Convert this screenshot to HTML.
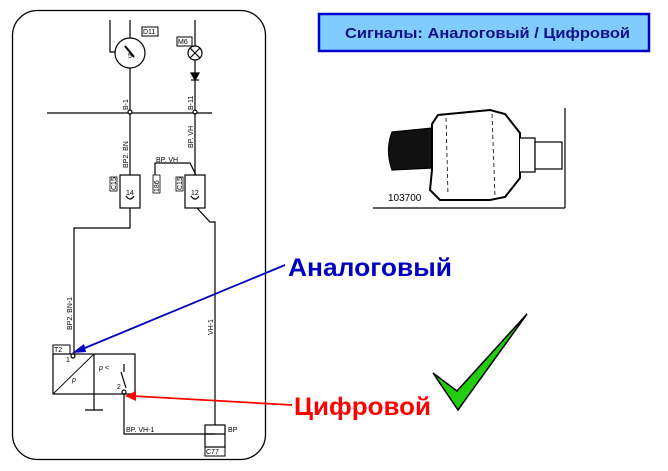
<!DOCTYPE html>
<html><head><meta charset="utf-8"><style>
html,body{margin:0;padding:0;background:#fff;width:668px;height:471px;overflow:hidden}
svg{display:block}
</style></head><body>
<svg width="668" height="471" viewBox="0 0 668 471" xmlns="http://www.w3.org/2000/svg" font-family="Liberation Sans, sans-serif">
<rect x="12.5" y="10.5" width="253" height="449" rx="25" fill="none" stroke="#000" stroke-width="1.3"/>
<g stroke="#000" stroke-width="1.2" fill="none">
<path d="M110 20 V52 H115"/>
<line x1="130" y1="20" x2="130" y2="38"/>
<circle cx="130" cy="53" r="15" fill="#fff"/>
<line x1="125" y1="46" x2="134" y2="57" stroke-width="2"/>
<line x1="130" y1="68" x2="130" y2="175"/>
<rect x="142" y="27" width="16" height="9" stroke-width="1"/>
<line x1="195" y1="20" x2="195" y2="46"/>
<circle cx="195" cy="53" r="7" fill="#fff"/>
<line x1="190" y1="48" x2="200" y2="58"/><line x1="200" y1="48" x2="190" y2="58"/>
<rect x="177" y="37" width="15" height="9" stroke-width="1"/>
<line x1="195" y1="60" x2="195" y2="175"/>
<path d="M191 73 H199 L195 80 Z" fill="#000"/><line x1="191" y1="80" x2="199" y2="80"/>
<line x1="47" y1="113" x2="212" y2="113"/>
<circle cx="130" cy="112" r="2" fill="#fff"/><circle cx="195" cy="112" r="2" fill="#fff"/>
<rect x="120" y="175" width="20" height="33"/>
<path d="M126 196 Q130 202 134 196"/>
<rect x="110" y="177" width="7" height="14" stroke-width="0.8"/>
<rect x="185" y="175" width="20" height="33"/>
<path d="M191 196 Q195 202 199 196"/>
<rect x="176" y="177" width="7" height="14" stroke-width="0.8"/>
<rect x="153" y="175" width="7" height="18" stroke-width="0.8"/>
<path d="M155 175 V163 H190 L196 175"/>
<path d="M130 208 V228 H74 V354"/>
<path d="M197 208 L210 222 H215 V425"/>
<rect x="53" y="354" width="82" height="40"/>
<line x1="94" y1="354" x2="94" y2="410"/>
<line x1="85" y1="410" x2="103" y2="410"/>
<line x1="53" y1="394" x2="94" y2="354" stroke-width="0.9"/>
<line x1="124" y1="364" x2="124" y2="372"/>
<line x1="121" y1="372" x2="126" y2="388"/>
<circle cx="124" cy="392" r="2" fill="#fff"/>
<circle cx="73" cy="356" r="2" fill="#fff"/>
<rect x="53" y="345" width="17" height="9" stroke-width="1"/>
<path d="M124 394 V434 H215"/>
<rect x="205" y="425" width="20" height="22"/>
<line x1="205" y1="434" x2="225" y2="434"/>
<rect x="205" y="447" width="20" height="9" stroke-width="1"/>
</g>
<g font-size="7" fill="#000">
<text x="143" y="34">D11</text><text x="178" y="44">M6</text>
<text x="128" y="58">5</text>
<text x="54" y="352">T2</text><text x="66" y="362">1</text><text x="117" y="389">2</text>
<text x="72" y="382" font-style="italic">p</text><text x="99" y="370" font-style="italic">p &lt;</text>
<text x="126" y="195">14</text><text x="191" y="195">12</text>
<text x="156" y="162">BP. VH</text>
<text x="126" y="432">BP. VH-1</text><text x="228" y="432">BP</text>
<text x="206" y="454">C77</text>
<text transform="translate(128,110) rotate(-90)">B-1</text>
<text transform="translate(193,110) rotate(-90)">B-11</text>
<text transform="translate(128,168) rotate(-90)">BP2. BN</text>
<text transform="translate(193,148) rotate(-90)">BP. VH</text>
<text transform="translate(72,330) rotate(-90)">BP2. BN-1</text>
<text transform="translate(213,335) rotate(-90)">VH-1</text>
<text transform="translate(116,190) rotate(-90)">C15</text>
<text transform="translate(182,190) rotate(-90)">C15</text>
<text transform="translate(159,192) rotate(-90)">186</text>
</g>
<rect x="319" y="14" width="330" height="37" fill="#80ccff" stroke="#0000cc" stroke-width="2.5"/>
<text x="345" y="38" font-size="15" font-weight="bold" fill="#10108a" textLength="285" lengthAdjust="spacingAndGlyphs">Сигналы: Аналоговый / Цифровой</text>
<g stroke="#000" fill="none" stroke-width="1.2">
<line x1="565" y1="108" x2="565" y2="208"/><line x1="373" y1="208" x2="565" y2="208"/>
<path d="M392 132 L432 128 L432 168 L392 170 Q385 150 392 132Z" fill="#111"/>
<path d="M432 124 L438 115 L490 110 L505 114 L520 133 L520 178 L505 197 L490 200 L440 200 L430 190 L432 170 Z" fill="#fff" stroke-width="2"/>
<path d="M520 138 H535 V172 H520" fill="#fff"/>
<rect x="535" y="142" width="27" height="27" fill="#fff"/>
<g stroke-dasharray="4 3" stroke-width="0.8"><line x1="446" y1="118" x2="448" y2="195"/><line x1="492" y1="114" x2="495" y2="196"/></g>
</g>
<text x="388" y="201" font-size="10" fill="#000">103700</text>
<text x="288" y="276" font-size="25" font-weight="bold" fill="#0000c0" textLength="164" lengthAdjust="spacingAndGlyphs">Аналоговый</text>
<text x="294" y="415" font-size="25" font-weight="bold" fill="#ff0000" textLength="137" lengthAdjust="spacingAndGlyphs">Цифровой</text>
<line x1="285" y1="265" x2="80" y2="350" stroke="#0000c0" stroke-width="1.8"/>
<path d="M72 353 L84 344 L86 352 Z" fill="#0000c0"/>
<line x1="292" y1="405" x2="133" y2="396" stroke="#ff0000" stroke-width="1.8"/>
<path d="M125 396 L136 391 L136 401 Z" fill="#ff0000"/>
<path d="M433 373 L457 391 L527 314 L458 410 Z" fill="#22cc11" stroke="#000" stroke-width="1.5"/>
</svg>
</body></html>
